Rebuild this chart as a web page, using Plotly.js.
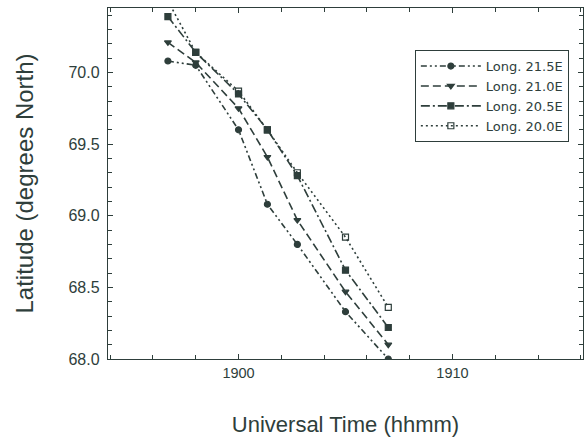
<!DOCTYPE html>
<html>
<head>
<meta charset="utf-8">
<script src="https://cdn.plot.ly/plotly-3.0.1.min.js"></script>
<style>html,body{margin:0;padding:0;background:#fff;}#chart{width:584px;height:439px;}</style>
</head>
<body>
<div id="chart"></div>
<script>
var times = [1896.7, 1898.0, 1900.0, 1901.35, 1902.75, 1905.0, 1907.0];
var seriesNames = ["Long. 21.5E", "Long. 21.0E", "Long. 20.5E", "Long. 20.0E"];
var lat215 = [70.08, 70.05, 69.60, 69.08, 68.80, 68.33, 68.00];
var lat210 = [70.21, 70.07, 69.75, 69.41, 68.97, 68.47, 68.10];
var lat205 = [70.39, 70.14, 69.85, 69.60, 69.28, 68.62, 68.22];
var lat200 = [70.50, 70.14, 69.87, 69.60, 69.30, 68.85, 68.36];

var ink = '#2e3e3b';
var dashes = ['6px,3px,2px,3px,2px,3px', '8px,4px', '9px,3px,2px,3px', '2px,3px'];
var symbols = ['circle', 'triangle-down', 'square', 'square-open'];
var allLat = [lat215, lat210, lat205, lat200];

var traces = allLat.map(function (ys, i) {
  return {
    x: times, y: ys, name: seriesNames[i], type: 'scatter', mode: 'lines+markers',
    line: {color: ink, width: 1.6, dash: dashes[i]},
    marker: {color: ink, size: 6, symbol: symbols[i], line: {color: ink, width: 1.2}}
  };
});

var font = '"Liberation Sans", Arial, Helvetica, sans-serif';
var layout = {
  width: 584, height: 439,
  margin: {l: 108, r: 1, t: 8, b: 80},
  paper_bgcolor: '#fff', plot_bgcolor: '#fff',
  font: {family: font, color: ink, size: 14},
  showlegend: true,
  legend: {
    x: 0.646, y: 0.880, xanchor: 'left', yanchor: 'top',
    bordercolor: ink, borderwidth: 1, bgcolor: '#fff',
    font: {family: '"DejaVu Sans", sans-serif', size: 13, color: ink},
    tracegroupgap: 0, itemwidth: 60
  },
  xaxis: {
    range: [1893.9, 1916.1], dtick: 10, tick0: 1900,
    ticks: 'inside', ticklen: 5, tickcolor: ink, tickwidth: 1,
    minor: {dtick: 2, ticks: 'inside', ticklen: 4, tickcolor: ink, showgrid: false},
    showline: true, linecolor: ink, linewidth: 1.2, mirror: 'ticks',
    showgrid: false, zeroline: false,
    tickfont: {size: 14.5, color: ink},
    title: {text: 'Universal Time (hhmm)', font: {size: 22, color: ink}, standoff: 37}
  },
  yaxis: {
    range: [68, 70.45], dtick: 0.5, tick0: 68, tickformat: '.1f',
    ticks: 'inside', ticklen: 5, tickcolor: ink, tickwidth: 1,
    minor: {dtick: 0.1, ticks: 'inside', ticklen: 4, tickcolor: ink, showgrid: false},
    showline: true, linecolor: ink, linewidth: 1.2, mirror: 'ticks',
    showgrid: false, zeroline: false, ticklabelstandoff: 4,
    tickfont: {size: 16, color: ink},
    title: {text: 'Latitude (degrees North)', font: {size: 24, color: ink}, standoff: 28}
  }
};

Plotly.newPlot('chart', traces, layout, {displayModeBar: false, staticPlot: true});
</script>
</body>
</html>
